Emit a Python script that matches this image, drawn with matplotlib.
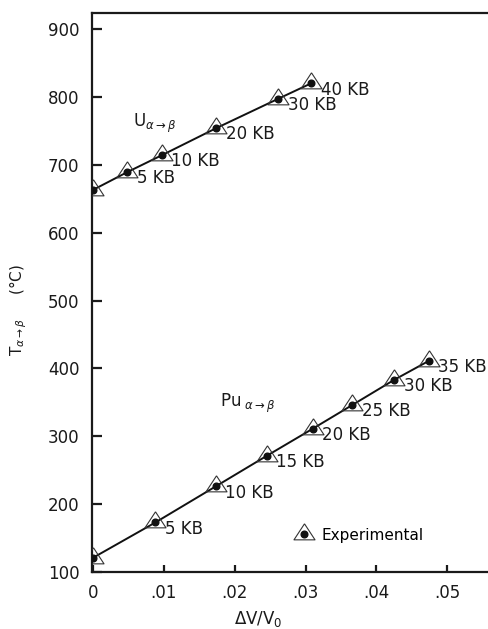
import matplotlib
matplotlib.use("Agg")
import matplotlib.pyplot as plt
from matplotlib.lines import Line2D
from matplotlib.legend_handler import HandlerTuple

plt.rcParams['font.family'] = ['DejaVu Sans']

# ---- data ----
u_dv = [0.0, 0.0048, 0.0097, 0.0174, 0.0261, 0.0308]
u_T = [663, 689, 714, 754, 797, 820]
u_labels = ["", "5 KB", "10 KB", "20 KB", "30 KB", "40 KB"]

pu_dv = [0.0, 0.0088, 0.0173, 0.0245, 0.0310, 0.0366, 0.0425, 0.0474]
pu_T = [121, 173, 226, 271, 311, 346, 383, 411]
pu_labels = ["", "5 KB", "10 KB", "15 KB", "20 KB", "25 KB", "30 KB", "35 KB"]

x_ticks = [0, 0.01, 0.02, 0.03, 0.04, 0.05]
x_ticklabels = ["0", ".01", ".02", ".03", ".04", ".05"]
y_ticks = [100, 200, 300, 400, 500, 600, 700, 800, 900]

# ---- figure ----
W, H = 489, 629
fig = plt.figure(figsize=(W / 100, H / 100), dpi=100)
ax = fig.add_axes([92 / W, 57 / H, 1.0 - 92 / W + 0.01, 559 / H])

# triangle marker with centroid at the data point
tri = [(0, 2 / 3), (-0.656, -1 / 3), (0.656, -1 / 3), (0, 2 / 3)]
tri_kw = dict(marker=tri, markersize=15.4, markerfacecolor='none',
              markeredgecolor='#333333', markeredgewidth=0.8, linestyle='none')
dot_kw = dict(marker='o', markersize=4.8, color='#111111', linestyle='none')

for xs, ys, labs in [(u_dv, u_T, u_labels), (pu_dv, pu_T, pu_labels)]:
    ax.plot(xs, ys, color='#111111', lw=1.4, zorder=2)
    ax.plot(xs, ys, zorder=3, **tri_kw)
    ax.plot(xs, ys, zorder=4, **dot_kw)
    for x, y, s in zip(xs, ys, labs):
        if s:
            ax.annotate(s, (x, y), xytext=(7, 2), textcoords='offset points',
                        ha='left', va='top', fontsize=12, color='#1a1a1a')

ax.text(0.0056, 761, r"U$_{\alpha\rightarrow\beta}$", fontsize=12,
        ha='left', va='center', color='#1a1a1a')
ax.text(0.0179, 348, r"Pu$_{\ \alpha\rightarrow\beta}$", fontsize=12,
        ha='left', va='center', color='#1a1a1a')

ax.set_xlim(-0.00015, 0.0566)
ax.set_ylim(100, 923.6)
ax.set_xticks(x_ticks)
ax.set_xticklabels(x_ticklabels)
ax.set_yticks(y_ticks)

ax.tick_params(axis='both', direction='in', labelsize=12, colors='#1a1a1a',
               width=1.6)
ax.tick_params(axis='y', length=7, pad=9)
ax.tick_params(axis='x', length=5, pad=9)
for side in ['left', 'bottom', 'top']:
    ax.spines[side].set_linewidth(1.6)
    ax.spines[side].set_color('#1a1a1a')
ax.spines['right'].set_visible(False)

ax.set_ylabel(r"T$_{\alpha\rightarrow\beta}$     (°C)", fontsize=11, color='#1a1a1a')
ax.yaxis.set_label_coords(-0.158, 0.469)
ax.set_xlabel(r"$\Delta$V/V$_0$", fontsize=12, color='#1a1a1a')
ax.xaxis.set_label_coords(0.413, -0.066)

h_tri = Line2D([], [], **tri_kw)
h_dot = Line2D([], [], **dot_kw)
ax.legend([(h_tri, h_dot)], ["Experimental"],
          handler_map={tuple: HandlerTuple(ndivide=1, pad=0)},
          loc='center left', bbox_to_anchor=(0.499, 0.066), frameon=False,
          borderpad=0, borderaxespad=0, handlelength=1.5, handletextpad=0.4,
          fontsize=11)

fig.savefig("out.png", dpi=100, facecolor='white')
